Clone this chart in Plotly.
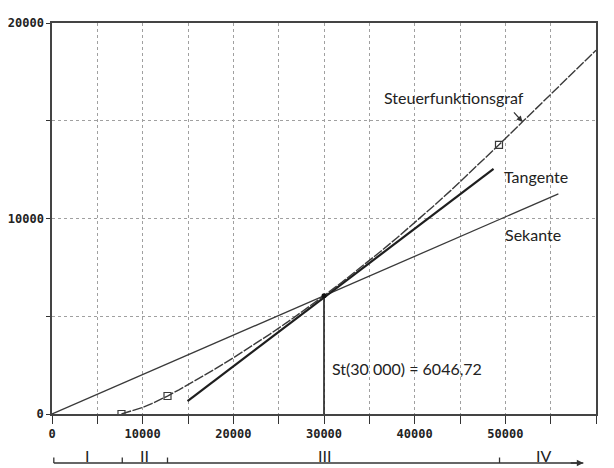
import plotly.graph_objects as go

# --- data ---
tax_x = [7664, 9000, 10000, 11000, 12000, 12739, 14000, 16000, 18000, 20000, 22000,
         24000, 26000, 28000, 30000, 32000, 34000, 36000, 38000, 40000, 42000,
         44000, 46000, 48000, 49300, 52000, 56000, 60000]
tax_y = [0, 176, 339, 528, 744, 920, 1238, 1760, 2304, 2872, 3461,
         4074, 4709, 5366, 6046.72, 6749, 7474, 8222, 8992, 9785, 10601,
         11439, 12300, 13183, 13770, 14997, 16816, 18600]
marker_x = [7664, 12739, 49300]
marker_y = [0, 920, 13770]
tangent_x = [14950, 48700]
tangent_y = [660, 12540]
secant_x = [0, 55850]
secant_y = [0, 11260]
point_x = [30000]
point_y = [6046.72]
zone_bounds = [200, 7750, 12739, 49360]
zone_arrow_end = 58600
zone_labels = ["I", "II", "III", "IV"]
zone_label_x = [3900, 10200, 30000, 54200]
x_ticks = [0, 10000, 20000, 30000, 40000, 50000, 60000]
y_ticks = [0, 10000, 20000]

LINE = "#3a3a3a"
TXT_FONT = "Lato"
MONO = dict(family="DejaVu Sans Mono", size=12, color="#222", weight="bold")

fig = go.Figure()

fig.add_trace(go.Scatter(x=secant_x, y=secant_y, mode="lines",
                         line=dict(color=LINE, width=1.3), hoverinfo="skip"))
fig.add_trace(go.Scatter(x=tangent_x, y=tangent_y, mode="lines",
                         line=dict(color="#1e1e1e", width=2.2), hoverinfo="skip"))
fig.add_trace(go.Scatter(x=tax_x, y=tax_y, mode="lines",
                         line=dict(color=LINE, width=1.4, dash="10px,1.5px"),
                         hoverinfo="skip"))
fig.add_trace(go.Scatter(x=marker_x, y=marker_y, mode="markers",
                         marker=dict(symbol="square-open", size=7,
                                     color=LINE, line=dict(width=1.2)),
                         hoverinfo="skip"))
# vertical line at x = 30000
fig.add_trace(go.Scatter(x=[point_x[0], point_x[0]], y=[0, point_y[0]], mode="lines",
                         line=dict(color="#1e1e1e", width=1.6), hoverinfo="skip"))
fig.add_trace(go.Scatter(x=point_x, y=point_y, mode="markers",
                         marker=dict(size=5, color="#111"), hoverinfo="skip"))

# zone bar under the axis
ZY = -0.1253
shapes = [dict(type="line", xref="x", yref="paper", x0=zone_bounds[0], x1=zone_arrow_end,
               y0=ZY, y1=ZY, line=dict(color="#333", width=1.3))]
for b in zone_bounds:
    shapes.append(dict(type="line", xref="x", yref="paper", x0=b, x1=b,
                       y0=ZY, y1=ZY + 0.014, line=dict(color="#333", width=1.3)))
fig.update_layout(shapes=shapes)

anns = []
for lab, lx in zip(zone_labels, zone_label_x):
    anns.append(dict(x=lx, y=-0.107, xref="x", yref="paper", text=lab, showarrow=False,
                     yanchor="middle",
                     font=dict(family=TXT_FONT, size=16, color="#222")))
anns.append(dict(x=zone_arrow_end, y=ZY, xref="x", yref="paper", text="", showarrow=True,
                 ax=-14, ay=0, arrowhead=2, arrowsize=1, arrowwidth=1.3, arrowcolor="#333"))
anns.append(dict(x=44300, y=16200, xref="x", yref="y", text="Steuerfunktionsgraf",
                 showarrow=False, yanchor="middle",
                 font=dict(family=TXT_FONT, size=16, color="#222")))
anns.append(dict(x=51900, y=14940, xref="x", yref="y", text="", showarrow=True,
                 ax=-10, ay=-11, arrowhead=2, arrowsize=1, arrowwidth=1.2,
                 arrowcolor="#333"))
anns.append(dict(x=49600, y=12130, xref="x", yref="y", text="Tangente", xanchor="left",
                 yanchor="middle", showarrow=False,
                 font=dict(family=TXT_FONT, size=16, color="#222")))
anns.append(dict(x=49700, y=9160, xref="x", yref="y", text="Sekante", xanchor="left",
                 yanchor="middle", showarrow=False,
                 font=dict(family=TXT_FONT, size=16, color="#222")))
anns.append(dict(x=30660, y=2350, xref="x", yref="y", text="St(30 000) = 6046,72",
                 xanchor="left", yanchor="middle", showarrow=False,
                 font=dict(family=TXT_FONT, size=16, color="#222")))
fig.update_layout(annotations=anns)

grid = dict(showgrid=True, gridcolor="#a0a0a0", gridwidth=1, griddash="dot")
fig.update_xaxes(range=[0, 60000], tickvals=x_ticks, ticktext=[str(v) for v in x_ticks],
                 ticks="outside", ticklen=8, tickcolor="#333", tickwidth=1.3,
                 tickfont=MONO, showline=True, linecolor="#444", linewidth=1.5,
                 mirror=True, zeroline=False, automargin=False,
                 minor=dict(dtick=5000, tick0=0, ticks="outside", ticklen=8,
                            tickcolor="#333", tickwidth=1.3, showgrid=True,
                            gridcolor="#a0a0a0", griddash="dot"),
                 **grid)
fig.update_yaxes(range=[0, 20000], tickvals=y_ticks, ticktext=[str(v) for v in y_ticks],
                 ticks="outside", ticklen=4, tickcolor="#333", tickwidth=1.3,
                 tickfont=MONO, showline=True, linecolor="#444", linewidth=1.5,
                 mirror=True, zeroline=False, automargin=False,
                 minor=dict(dtick=5000, tick0=0, ticks="outside", ticklen=4,
                            tickcolor="#333", tickwidth=1.3, showgrid=True,
                            gridcolor="#a0a0a0", griddash="dot"),
                 **grid)

# page body adds an 8px margin, so the figure is 8px smaller than the window
fig.update_layout(width=606, height=460, showlegend=False,
                  margin=dict(l=44, r=18, t=15, b=54),
                  plot_bgcolor="white", paper_bgcolor="white")

fig.write_html("out.html")
